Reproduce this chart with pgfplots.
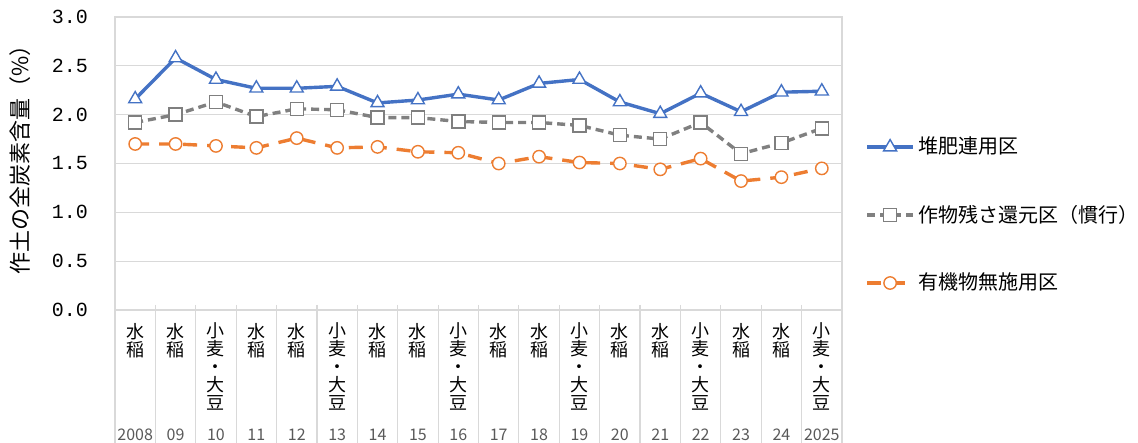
\documentclass[border=0pt]{standalone}
\usepackage{fontspec}
\setmainfont{Noto Sans CJK JP}
\newfontfamily\monofont{Liberation Mono}
\usepackage{pgfplots}
\pgfplotsset{compat=1.18}
\definecolor{cblue}{HTML}{4472C4}
\definecolor{cgray}{HTML}{808080}
\definecolor{cgrayedge}{HTML}{7F7F7F}
\definecolor{corange}{HTML}{ED7D31}
\definecolor{gridc}{HTML}{D9D9D9}
\definecolor{yearc}{HTML}{595959}
\begin{document}
\begin{tikzpicture}
\begin{axis}[
  scale only axis, width=363.5pt, height=146.5pt,
  xmin=-0.5, xmax=17.5, ymin=0, ymax=3,
  clip=false,
  ytick={0,0.5,1,1.5,2,2.5,3},
  yticklabels={0.0,0.5,1.0,1.5,2.0,2.5,3.0},
  ymajorgrids, grid style={gridc, line width=0.6pt},
  axis line style={gridc, line width=0.6pt},
  major tick length=0pt,
  yticklabel style={font=\monofont\fontsize{10}{10}\selectfont, anchor=east, xshift=-10pt},
  xtick={0,...,17},
  xticklabels={{水\\稲},{水\\稲},{小\\麦\\・\\大\\豆},{水\\稲},{水\\稲},{小\\麦\\・\\大\\豆},{水\\稲},{水\\稲},{小\\麦\\・\\大\\豆},{水\\稲},{水\\稲},{小\\麦\\・\\大\\豆},{水\\稲},{水\\稲},{小\\麦\\・\\大\\豆},{水\\稲},{水\\稲},{小\\麦\\・\\大\\豆}},
  xticklabel style={align=center, font=\fontsize{9}{9}\selectfont, anchor=north, yshift=-3pt},
  extra x ticks={0,...,17},
  extra x tick labels={2008,09,10,11,12,13,14,15,16,17,18,19,20,21,22,23,24,2025},
  extra x tick style={grid=none, xticklabel style={font=\fontsize{8}{8}\selectfont, text=yearc, yshift=-53pt}},
  ylabel={作土の全炭素含量（\%）},
  every axis y label/.style={at={(rel axis cs:0,0.5)}, xshift=-47.5pt, yshift=4.5pt, rotate=90, anchor=center, font=\fontsize{11}{11}\selectfont},
  legend style={at={(1,0.605)}, anchor=north west, xshift=11.5pt, draw=none, fill=none,
    font=\fontsize{10}{10}\selectfont, row sep=20pt, inner sep=0pt},
  legend cell align=left,
  legend image code/.code={\draw[#1, mark repeat=2, mark phase=2] plot coordinates {(0pt,0pt) (11.5pt,0pt) (23pt,0pt)};},
]
\coordinate (bl) at (rel axis cs:0,0);
\coordinate (tr) at (rel axis cs:1,1);
\pgfplotsinvokeforeach{-0.5,0.5,...,17.5}{\draw[gridc, line width=0.6pt] (axis cs:#1,0) ++(0pt,2.5pt) -- ++(0pt,-69pt);}
\addplot[cblue, line width=1.7pt, mark=triangle*, mark size=3.75pt,
  mark options={solid, fill=white, draw=cblue, line width=0.7pt}] coordinates {
(0,2.16) (1,2.58) (2,2.36) (3,2.27) (4,2.27) (5,2.29) (6,2.12) (7,2.15) (8,2.21)
(9,2.15) (10,2.32) (11,2.36) (12,2.13) (13,2.01) (14,2.22) (15,2.03) (16,2.23) (17,2.24)};
\addplot[cgray, line width=1.7pt, dash pattern=on 4pt off 2.5pt, mark=square*, mark size=3.25pt,
  mark options={solid, fill=white, draw=cgrayedge, line width=0.7pt}] coordinates {
(0,1.92) (1,2.00) (2,2.13) (3,1.98) (4,2.06) (5,2.05) (6,1.97) (7,1.97) (8,1.93)
(9,1.92) (10,1.92) (11,1.89) (12,1.79) (13,1.75) (14,1.92) (15,1.60) (16,1.71) (17,1.86)};
\addplot[corange, line width=1.7pt, dash pattern=on 7pt off 5pt, mark=*, mark size=3.1pt,
  mark options={solid, fill=white, draw=corange, line width=0.7pt}] coordinates {
(0,1.70) (1,1.70) (2,1.68) (3,1.66) (4,1.76) (5,1.66) (6,1.67) (7,1.62) (8,1.61)
(9,1.50) (10,1.57) (11,1.51) (12,1.50) (13,1.44) (14,1.55) (15,1.32) (16,1.36) (17,1.45)};
\legend{堆肥連用区, 作物残さ還元区（慣行）, 有機物無施用区}
\end{axis}
\pgfresetboundingbox
\path[use as bounding box] ([shift={(-57.5pt,-66.5pt)}]bl) rectangle ([shift={(148pt,8.5pt)}]tr);
\end{tikzpicture}
\end{document}
